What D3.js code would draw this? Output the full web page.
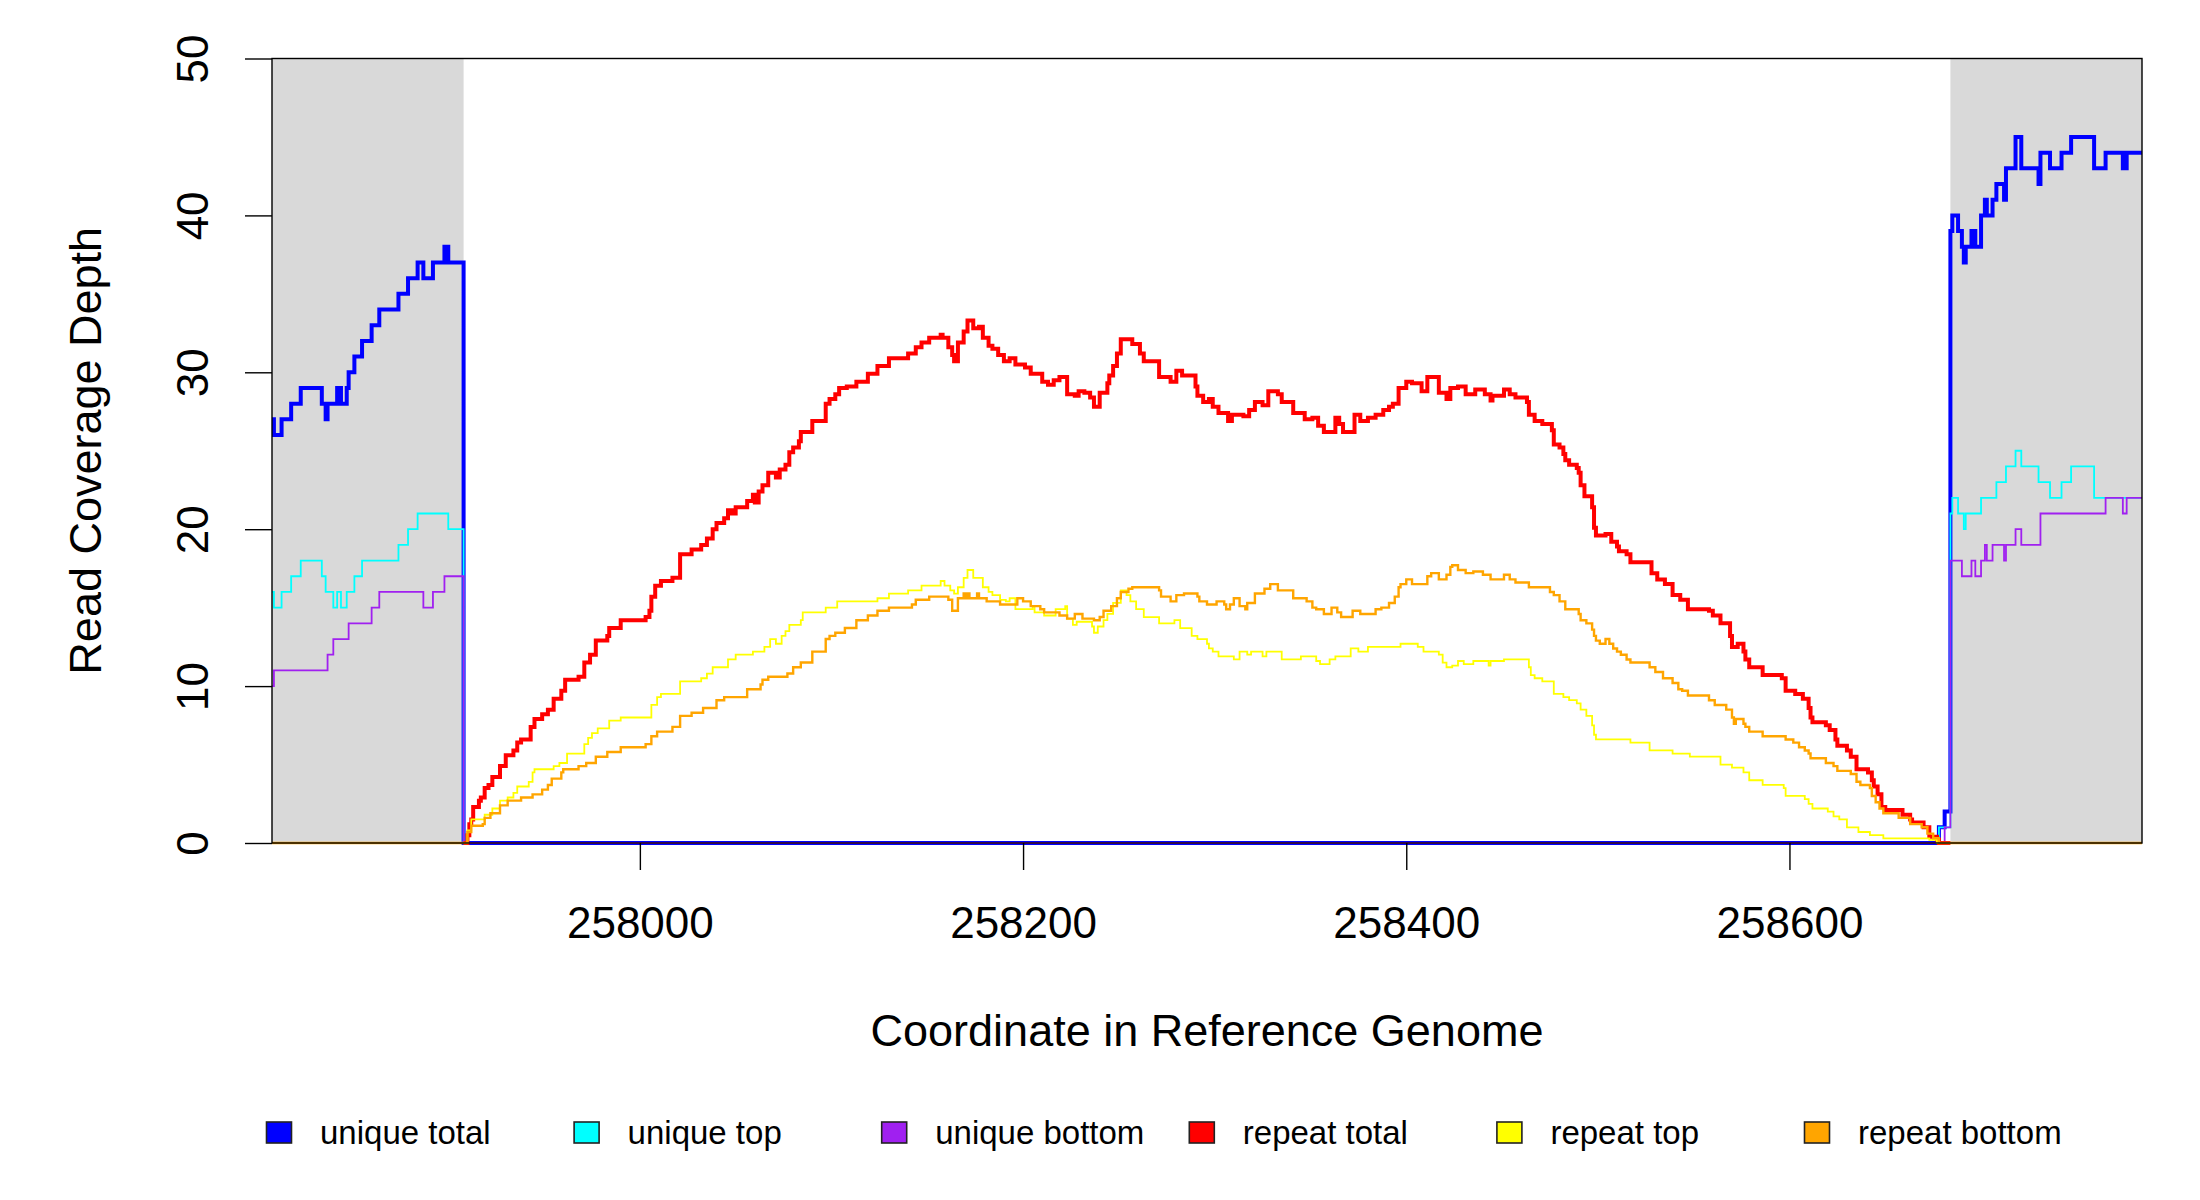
<!DOCTYPE html>
<html>
<head>
<meta charset="utf-8">
<script src="https://cdn.jsdelivr.net/npm/d3@7"></script>
<style>
  html, body { margin: 0; padding: 0; background: #ffffff; }
  svg { display: block; }
  text { font-family: "Liberation Sans", Arial, Helvetica, sans-serif; fill: #000; }
</style>
</head>
<body>
<svg id="chart" width="2200" height="1200"></svg>
<script>
// ---------------- DATA ----------------
const xDomain = [257808, 258784];
const yDomain = [0, 50];
const xTicks = [258000, 258200, 258400, 258600];
const yTicks = [0, 10, 20, 30, 40, 50];
const flankRegions = [[257808, 257908], [258684, 258784]];
const xTitle = "Coordinate in Reference Genome";
const yTitle = "Read Coverage Depth";
const legendLabels = ["unique total", "unique top", "unique bottom", "repeat total", "repeat top", "repeat bottom"];
const seriesColors = ["#0000FF", "#00FFFF", "#A020F0", "#FF0000", "#FFFF00", "#FFA500"];

// step series: [position, depth from this position on]
const uniqueTotal = [[257808,27],[257809,26],[257813,27],[257818,28],[257823,29],[257834,28],[257836,27],[257837,28],[257842,29],[257844,28],[257847,29],[257848,30],[257851,31],[257855,32],[257860,33],[257864,34],[257874,35],[257879,36],[257884,37],[257887,36],[257892,37],[257898,38],[257900,37],[257908,0],[258678,1],[258681,2],[258684,39],[258685,40],[258688,39],[258690,38],[258691,37],[258692,38],[258695,39],[258697,38],[258700,40],[258702,41],[258703,40],[258706,41],[258708,42],[258712,41],[258713,43],[258718,45],[258721,43],[258730,42],[258731,44],[258736,43],[258742,44],[258747,45],[258759,43],[258765,44],[258774,43],[258776,44],[258784,44]];

const uniqueTop = [[257808,16],[257809,15],[257813,16],[257818,17],[257823,18],[257834,17],[257836,16],[257840,15],[257842,16],[257844,15],[257847,16],[257851,17],[257855,18],[257874,19],[257879,20],[257884,21],[257900,20],[257908,0],[258678,1],[258684,21],[258685,22],[258688,21],[258691,20],[258692,21],[258700,22],[258708,23],[258713,24],[258718,25],[258721,24],[258730,23],[258736,22],[258742,23],[258747,24],[258759,22],[258784,22]];

const uniqueBottom = [[257808,10],[257809,11],[257837,12],[257840,13],[257848,14],[257860,15],[257864,16],[257887,15],[257892,16],[257898,17],[257908,0],[258681,1],[258684,18],[258690,17],[258695,18],[258697,17],[258700,18],[258702,19],[258703,18],[258706,19],[258712,18],[258713,19],[258718,20],[258721,19],[258731,21],[258765,22],[258774,21],[258776,22],[258784,22]];

const repeatTotal = [[257908,0],[257910,0.5],[257911,1.2],[257912,1.5],[257913,2.3],[257916,2.7],[257917,2.9],[257919,3.5],[257921,3.7],[257923,4.2],[257927,4.9],[257930,5.6],[257934,5.9],[257936,6.4],[257938,6.6],[257943,7.4],[257945,7.9],[257949,8.2],[257952,8.5],[257955,9.2],[257959,9.7],[257961,10.4],[257968,10.6],[257971,11.5],[257974,12.0],[257977,12.9],[257983,13.2],[257984,13.7],[257990,14.2],[258003,14.4],[258005,14.8],[258006,15.7],[258008,16.4],[258011,16.7],[258017,16.9],[258021,18.4],[258027,18.7],[258032,19.0],[258035,19.4],[258038,20.0],[258040,20.4],[258044,20.7],[258046,21.2],[258048,21.0],[258050,21.4],[258056,21.8],[258059,22.2],[258060,21.7],[258062,22.4],[258064,22.8],[258067,23.6],[258071,23.3],[258073,23.8],[258076,24.1],[258078,24.9],[258080,25.2],[258083,25.6],[258084,26.2],[258090,26.9],[258097,28.0],[258099,28.3],[258102,28.6],[258104,29.0],[258108,29.1],[258113,29.4],[258119,29.9],[258124,30.4],[258130,30.9],[258140,31.2],[258144,31.6],[258147,31.9],[258151,32.2],[258157,32.4],[258158,32.2],[258161,31.6],[258163,31.1],[258164,30.7],[258166,31.9],[258169,32.6],[258171,33.3],[258174,32.8],[258177,32.9],[258179,32.2],[258182,31.7],[258184,31.5],[258187,31.1],[258190,30.7],[258193,30.9],[258196,30.5],[258201,30.3],[258204,29.9],[258210,29.4],[258213,29.2],[258216,29.5],[258219,29.7],[258223,28.6],[258227,28.5],[258229,28.8],[258232,28.7],[258235,28.4],[258237,27.8],[258240,28.7],[258244,29.3],[258245,29.8],[258247,30.4],[258249,31.2],[258251,32.1],[258257,31.8],[258261,31.2],[258263,30.7],[258271,29.7],[258277,29.4],[258280,30.1],[258283,29.8],[258290,29.1],[258291,28.5],[258294,28.1],[258297,28.3],[258299,27.8],[258302,27.4],[258307,26.9],[258309,27.3],[258315,27.2],[258318,27.6],[258321,28.1],[258325,27.9],[258328,28.8],[258333,28.6],[258335,28.1],[258341,27.4],[258347,27.0],[258351,27.1],[258354,26.6],[258357,26.2],[258363,27.1],[258365,26.7],[258367,26.2],[258373,27.3],[258376,26.9],[258380,27.1],[258384,27.3],[258388,27.6],[258391,27.8],[258393,28.0],[258396,29.0],[258400,29.4],[258403,29.3],[258408,28.8],[258411,29.7],[258417,28.7],[258421,28.3],[258423,29.0],[258427,29.1],[258431,28.6],[258436,28.9],[258441,28.6],[258444,28.2],[258445,28.5],[258451,28.9],[258454,28.6],[258457,28.4],[258463,28.1],[258464,27.3],[258467,26.9],[258471,26.7],[258476,26.3],[258477,25.4],[258480,25.2],[258482,24.8],[258483,24.4],[258485,24.1],[258489,23.9],[258490,23.6],[258491,22.8],[258493,22.1],[258497,21.4],[258498,20.1],[258499,19.6],[258504,19.7],[258507,19.2],[258510,18.9],[258511,18.6],[258515,18.4],[258517,17.9],[258528,17.2],[258531,16.8],[258535,16.5],[258539,15.8],[258543,15.5],[258547,14.9],[258558,14.8],[258560,14.5],[258564,14.0],[258569,13.2],[258570,12.5],[258573,12.7],[258576,12.2],[258577,11.7],[258579,11.2],[258586,10.7],[258596,10.5],[258598,9.7],[258603,9.5],[258607,9.2],[258610,8.6],[258611,8.0],[258612,7.7],[258619,7.5],[258621,7.2],[258624,6.6],[258625,6.2],[258630,5.9],[258632,5.5],[258635,4.7],[258641,4.5],[258643,4.0],[258644,3.6],[258646,3.1],[258648,2.3],[258650,2.1],[258659,1.8],[258663,1.5],[258664,1.3],[258670,1.0],[258673,0.4],[258677,0.2],[258678,0],[258684,0]];

const repeatTop = [[257908,0],[257910,0.8],[257912,1.5],[257919,1.8],[257923,2.2],[257927,2.7],[257931,2.9],[257934,3.2],[257936,3.6],[257942,3.9],[257944,4.5],[257945,4.7],[257955,4.9],[257958,5.1],[257962,5.7],[257971,6.3],[257973,6.7],[257975,7.0],[257978,7.3],[257984,7.8],[257990,8.0],[258006,8.8],[258009,9.3],[258011,9.5],[258021,10.3],[258032,10.5],[258035,10.8],[258038,11.2],[258046,11.7],[258050,12.0],[258059,12.2],[258065,12.5],[258068,13.0],[258071,12.7],[258074,13.2],[258076,13.5],[258078,13.9],[258084,14.2],[258085,14.7],[258097,15.0],[258103,15.4],[258124,15.6],[258130,15.9],[258140,16.1],[258147,16.4],[258157,16.7],[258159,16.4],[258162,16.1],[258164,15.9],[258166,16.3],[258169,16.9],[258171,17.4],[258174,16.9],[258179,16.3],[258182,16.0],[258184,15.8],[258188,15.5],[258191,15.4],[258193,15.6],[258196,14.9],[258205,15.1],[258206,14.7],[258211,14.5],[258217,14.9],[258222,15.1],[258223,14.3],[258226,13.9],[258228,14.1],[258236,13.8],[258237,13.4],[258239,13.8],[258242,14.2],[258244,14.6],[258247,15.3],[258251,16.1],[258254,15.8],[258256,15.4],[258259,14.9],[258263,14.4],[258271,14.0],[258279,14.2],[258282,13.7],[258288,13.2],[258291,13.0],[258296,12.7],[258297,12.4],[258299,12.2],[258302,11.9],[258310,11.7],[258313,12.2],[258317,12.0],[258319,12.2],[258325,11.9],[258327,12.2],[258335,11.7],[258345,11.9],[258353,11.6],[258355,11.4],[258360,11.7],[258363,11.9],[258371,12.4],[258375,12.2],[258380,12.5],[258397,12.7],[258406,12.5],[258409,12.2],[258417,12.0],[258419,11.5],[258421,11.2],[258424,11.3],[258427,11.6],[258430,11.4],[258435,11.6],[258443,11.3],[258444,11.6],[258451,11.7],[258464,11.2],[258465,10.7],[258467,10.5],[258471,10.3],[258477,9.5],[258482,9.3],[258485,9.1],[258489,8.9],[258491,8.5],[258494,8.1],[258497,7.5],[258498,6.9],[258499,6.6],[258517,6.4],[258527,5.9],[258539,5.7],[258548,5.5],[258564,5.0],[258570,4.8],[258576,4.5],[258579,4.0],[258586,3.7],[258597,3.5],[258598,3.0],[258608,2.8],[258610,2.5],[258612,2.2],[258620,2.0],[258623,1.7],[258626,1.5],[258630,1.0],[258636,0.7],[258642,0.5],[258649,0.3],[258673,0.2],[258677,0],[258684,0]];

const repeatBottom = [[257808,0],[257910,0.7],[257912,1.1],[257918,1.2],[257919,1.6],[257922,1.9],[257927,2.4],[257931,2.7],[257938,2.9],[257944,3.1],[257949,3.4],[257952,3.7],[257954,4.1],[257959,4.5],[257960,4.7],[257968,4.9],[257972,5.1],[257977,5.5],[257983,5.8],[257990,6.1],[258003,6.3],[258006,6.8],[258009,7.1],[258017,7.4],[258021,8.1],[258027,8.3],[258033,8.6],[258040,9.1],[258044,9.3],[258056,9.8],[258063,10.1],[258064,10.4],[258067,10.6],[258077,10.8],[258080,11.2],[258084,11.5],[258090,12.2],[258097,13.0],[258099,13.2],[258102,13.4],[258107,13.7],[258113,14.2],[258119,14.5],[258124,14.8],[258130,15.0],[258142,15.2],[258144,15.5],[258151,15.7],[258161,15.5],[258163,14.8],[258166,15.6],[258169,15.9],[258170,15.6],[258171,15.9],[258172,15.6],[258176,15.9],[258177,15.6],[258181,15.4],[258188,15.2],[258197,15.6],[258200,15.4],[258204,15.1],[258209,14.9],[258211,14.7],[258219,14.5],[258223,14.3],[258227,14.6],[258231,14.3],[258237,14.2],[258240,14.4],[258242,14.8],[258246,15.1],[258249,15.6],[258251,16.0],[258255,16.2],[258257,16.3],[258271,16.1],[258272,15.7],[258277,15.4],[258280,15.8],[258284,15.9],[258291,15.7],[258292,15.4],[258296,15.2],[258301,15.4],[258305,15.2],[258306,14.9],[258308,15.2],[258310,15.6],[258313,15.1],[258316,14.9],[258317,15.3],[258321,15.9],[258326,16.2],[258329,16.5],[258333,16.1],[258341,15.6],[258348,15.4],[258351,15.0],[258353,14.9],[258357,14.6],[258361,15.0],[258364,14.7],[258366,14.4],[258372,14.8],[258376,14.6],[258384,14.9],[258387,15.0],[258391,15.3],[258394,15.7],[258396,16.3],[258397,16.5],[258400,16.8],[258403,16.5],[258411,17.0],[258413,17.2],[258417,16.8],[258421,17.1],[258423,17.6],[258424,17.7],[258427,17.4],[258431,17.2],[258435,17.3],[258440,17.1],[258444,16.8],[258451,17.1],[258454,16.8],[258457,16.6],[258464,16.3],[258475,16.0],[258477,15.8],[258480,15.4],[258483,14.9],[258490,14.6],[258491,14.2],[258494,14.0],[258497,13.6],[258498,13.2],[258499,12.9],[258501,12.7],[258504,13.0],[258506,12.7],[258508,12.4],[258510,12.2],[258512,12.0],[258515,11.7],[258517,11.5],[258527,11.2],[258530,10.9],[258534,10.5],[258539,10.2],[258542,9.8],[258544,9.7],[258547,9.4],[258558,9.1],[258561,8.8],[258567,8.5],[258570,8.0],[258571,7.6],[258572,7.9],[258576,7.6],[258577,7.4],[258579,7.1],[258586,6.8],[258598,6.6],[258602,6.4],[258605,6.1],[258608,5.9],[258610,5.7],[258611,5.4],[258619,5.1],[258623,4.9],[258625,4.6],[258632,4.4],[258635,3.9],[258637,3.7],[258642,3.5],[258643,3.0],[258645,2.6],[258647,2.2],[258649,1.9],[258657,1.6],[258663,1.2],[258669,1.0],[258672,0.6],[258675,0.3],[258678,0],[258784,0]];

// ---------------- LAYOUT ----------------
const svg = d3.select("#chart");
const plot = { left: 272, right: 2142, top: 58.5, bottom: 843 };

const x = d3.scaleLinear().domain(xDomain).range([plot.left, plot.right]);
const y = d3.scaleLinear().domain(yDomain).range([plot.bottom, plot.top]);

svg.append("rect").attr("x", 0).attr("y", 0).attr("width", 2200).attr("height", 1200).attr("fill", "#ffffff");

svg.append("defs").append("clipPath").attr("id", "plotclip")
  .append("rect")
  .attr("x", plot.left).attr("y", plot.top - 2)
  .attr("width", plot.right - plot.left).attr("height", plot.bottom - plot.top + 4);

// flank shading
svg.append("g").selectAll("rect").data(flankRegions).join("rect")
  .attr("x", d => x(d[0]))
  .attr("y", y(yDomain[1]))
  .attr("width", d => x(d[1]) - x(d[0]))
  .attr("height", y(yDomain[0]) - y(yDomain[1]))
  .attr("fill", "#D9D9D9");

// series
const seriesList = [
  { data: uniqueTotal, color: seriesColors[0], width: 4 },
  { data: uniqueTop, color: seriesColors[1], width: 1.8 },
  { data: uniqueBottom, color: seriesColors[2], width: 1.8 },
  { data: repeatTotal, color: seriesColors[3], width: 4 },
  { data: repeatTop, color: seriesColors[4], width: 1.8 },
  { data: repeatBottom, color: seriesColors[5], width: 2.4 }
];

const line = d3.line()
  .x(d => x(d[0]))
  .y(d => y(d[1]))
  .curve(d3.curveStepAfter);

const lineG = svg.append("g").attr("clip-path", "url(#plotclip)");
seriesList.forEach(s => {
  lineG.append("path")
    .attr("d", line(s.data))
    .attr("fill", "none")
    .attr("stroke", s.color)
    .attr("stroke-width", s.width)
    .attr("stroke-linejoin", "miter")
    .attr("stroke-linecap", "butt");
});

// box
svg.append("rect")
  .attr("x", plot.left).attr("y", plot.top)
  .attr("width", plot.right - plot.left).attr("height", plot.bottom - plot.top)
  .attr("fill", "none").attr("stroke", "#000").attr("stroke-width", 1.4);

// y axis
const yAxis = d3.axisLeft(y).tickValues(yTicks).tickSize(27).tickSizeOuter(0).tickFormat(d3.format("d"));
const yG = svg.append("g").attr("transform", `translate(${plot.left},0)`).call(yAxis);
yG.select(".domain").remove();
yG.selectAll(".tick line").attr("stroke", "#000").attr("stroke-width", 1.4);
yG.selectAll(".tick text")
  .attr("x", null).attr("dy", null)
  .attr("transform", "translate(-64,0) rotate(-90)")
  .attr("text-anchor", "middle")
  .style("font-size", "44px")
  .style("font-family", "'Liberation Sans', Arial, sans-serif")
  .attr("fill", "#000");

// x axis
const xAxis = d3.axisBottom(x).tickValues(xTicks).tickSize(27).tickSizeOuter(0).tickFormat(d3.format("d"));
const xG = svg.append("g").attr("transform", `translate(0,${plot.bottom})`).call(xAxis);
xG.select(".domain").remove();
xG.selectAll(".tick line").attr("stroke", "#000").attr("stroke-width", 1.4);
xG.selectAll(".tick text")
  .attr("y", 95).attr("dy", null)
  .attr("text-anchor", "middle")
  .style("font-size", "44px")
  .style("font-family", "'Liberation Sans', Arial, sans-serif")
  .attr("fill", "#000");

// titles
svg.append("text")
  .attr("x", (plot.left + plot.right) / 2)
  .attr("y", 1046)
  .attr("text-anchor", "middle")
  .style("font-size", "45px")
  .text(xTitle);

svg.append("text")
  .attr("transform", `translate(101,${(plot.top + plot.bottom) / 2}) rotate(-90)`)
  .attr("text-anchor", "middle")
  .style("font-size", "45px")
  .text(yTitle);

// legend
const legendX0 = 279, legendStep = 307.6;
const legG = svg.append("g");
const items = legG.selectAll("g").data(legendLabels).join("g")
  .attr("transform", (d, i) => `translate(${legendX0 + i * legendStep},0)`);
items.append("rect")
  .attr("x", -12.5).attr("y", 1122).attr("width", 25).attr("height", 21)
  .attr("fill", (d, i) => seriesColors[i])
  .attr("stroke", "#222").attr("stroke-width", 1.6);
items.append("text")
  .attr("x", 41).attr("y", 1144)
  .style("font-size", "33px")
  .text(d => d);
</script>
</body>
</html>
